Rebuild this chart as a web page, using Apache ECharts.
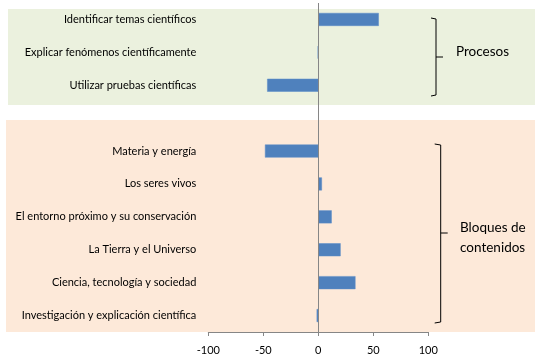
<!DOCTYPE html>
<html><head><meta charset="utf-8">
<script src="https://cdn.jsdelivr.net/npm/echarts@6/dist/echarts.min.js"></script>
<style>html,body{margin:0;padding:0;background:#fff}#c{width:535px;height:356px}</style>
</head><body><div id="c"></div>
<script>
const categories = [
  'Identificar temas científicos',
  'Explicar fenómenos científicamente',
  'Utilizar pruebas científicas',
  '',
  'Materia y energía',
  'Los seres vivos',
  'El entorno próximo y su conservación',
  'La Tierra y el Universo',
  'Ciencia, tecnología y sociedad',
  'Investigación y explicación científica'
];
const values = [55, -0.5, -46.5, null, -48.5, 3.3, 12.2, 20.3, 33.8, -1.5];
const xMin = -100, xMax = 100, xInterval = 50;
const groupLabelProcesos = 'Procesos';
const groupLabelBloques = 'Bloques de\ncontenidos';

const FONT = 'Lato';
const chart = echarts.init(document.getElementById('c'), null, {renderer: 'canvas'});

function brace(xv, y0, y1, serif) {
  return {
    type: 'polyline', z: 50,
    shape: {points: [[xv - serif, y0], [xv, y0 + 1], [xv, y1 - 1], [xv - serif, y1]]},
    style: {stroke: '#000', lineWidth: 1, fill: null}
  };
}
function braceTick(xv, ym, tick) {
  return {
    type: 'line', z: 50,
    shape: {x1: xv, y1: ym, x2: xv + tick, y2: ym},
    style: {stroke: '#000', lineWidth: 1}
  };
}

chart.setOption({
  backgroundColor: '#ffffff',
  animation: false,
  grid: {left: 208.3, right: 106.7, top: 3, bottom: 24, containLabel: false},
  xAxis: {
    type: 'value', min: xMin, max: xMax, interval: xInterval,
    axisLine: {show: true, onZero: false, lineStyle: {color: '#868686', width: 1}},
    axisTick: {show: true, length: 4, lineStyle: {color: '#868686'}},
    splitLine: {show: false},
    axisLabel: {margin: 13, color: '#000', fontFamily: FONT, fontSize: 11}
  },
  yAxis: {
    type: 'category', inverse: true, data: categories,
    axisLine: {show: false}, axisTick: {show: false}, splitLine: {show: false},
    axisLabel: {margin: 12, color: '#000', fontFamily: FONT, fontSize: 11}
  },
  graphic: [
    {type: 'rect', z: -10, silent: true, shape: {x: 8, y: 9, width: 527, height: 96}, style: {fill: '#EBF1DE'}},
    {type: 'rect', z: -10, silent: true, shape: {x: 6, y: 120, width: 529, height: 212}, style: {fill: '#FDE9D9'}},
    brace(436, 18, 96, 5), braceTick(436, 57, 7),
    brace(440.7, 144, 323, 6), braceTick(440.7, 233, 7),
    {type: 'text', z: 50, style: {text: groupLabelProcesos, x: 456, y: 52, verticalAlign: 'middle', font: '13.5px ' + FONT, fill: '#000'}},
    {type: 'text', z: 50, style: {text: groupLabelBloques, x: 460, y: 238, verticalAlign: 'middle', font: '13.5px ' + FONT, lineHeight: 20, fill: '#000'}}
  ],
  series: [{
    type: 'bar', data: values, barWidth: 13,
    itemStyle: {color: '#4F81BD', borderColor: '#5B8CC8', borderWidth: 0.5},
    markLine: {
      silent: true, symbol: 'none', label: {show: false},
      lineStyle: {color: '#868686', type: 'solid', width: 1},
      data: [{xAxis: 0}]
    }
  }]
});
</script></body></html>
